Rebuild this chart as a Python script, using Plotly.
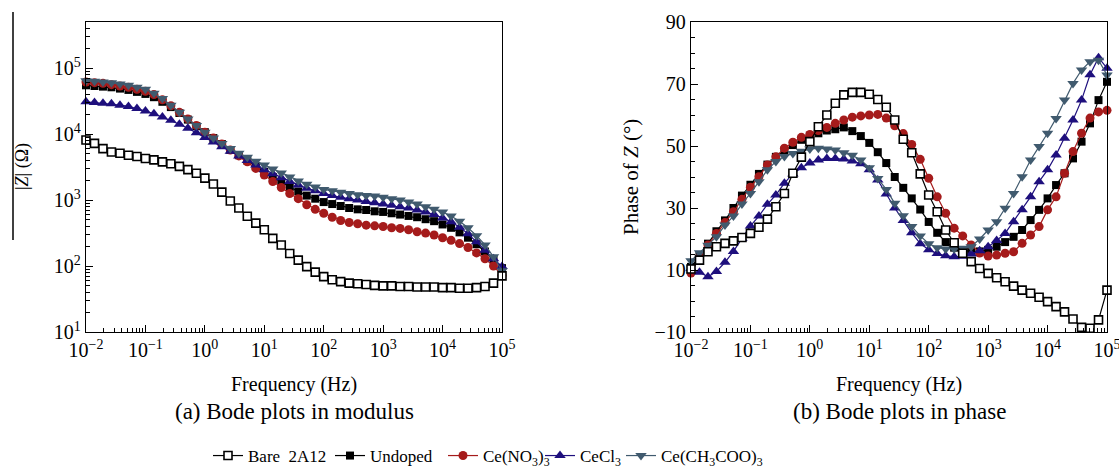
import plotly.graph_objects as go

W, H = 1119, 469

freq = [0.01, 0.0139, 0.0193, 0.0268, 0.0373, 0.0518, 0.072,
        0.1, 0.139, 0.193, 0.268, 0.373, 0.518, 0.72,
        1, 1.39, 1.93, 2.68, 3.73, 5.18, 7.2,
        10, 13.9, 19.3, 26.8, 37.3, 51.8, 72,
        100, 139, 193, 268, 373, 518, 720,
        1000, 1390, 1930, 2680, 3730, 5180, 7200,
        10000, 13900, 19300, 26800, 37300, 51800, 72000, 100000]

# |Z| (ohm)
z_bare = [8130, 7240, 6030, 5370, 5130, 4790, 4570, 4270, 4070, 3800,
          3550, 3240, 2900, 2550, 2150, 1750, 1320, 970, 760, 570,
          447, 355, 263, 209, 155, 123, 98, 81, 69, 62,
          58, 55, 54, 52.5, 51, 50, 50, 49, 49, 48,
          48, 48, 47, 47, 46, 46, 47, 49, 55, 71]
z_undoped = [55000, 53700, 52500, 51300, 49000, 46800, 43700, 40700, 36300, 30900,
             25700, 20900, 16600, 13200, 10700, 8710, 7080, 5750, 4790, 3980,
             3240, 2690, 2240, 1860, 1580, 1350, 1170, 1050, 933, 871,
             813, 759, 724, 708, 676, 661, 631, 603, 575, 550,
             513, 479, 427, 380, 324, 269, 214, 166, 126, 93]
z_no3 = [61700, 60300, 58900, 56200, 53700, 51300, 47900, 44700, 39800, 33100,
         26900, 21400, 17000, 13500, 10700, 8710, 7080, 5750, 4680, 3800,
         3020, 2400, 1910, 1550, 1260, 1050, 851, 724, 631, 550,
         490, 457, 437, 417, 407, 398, 380, 372, 355, 331,
         316, 295, 269, 245, 219, 191, 158, 129, 100, 72]
z_cl = [30900, 30200, 29500, 28800, 27500, 26300, 24500, 22400, 20400, 18200,
        16200, 14100, 12300, 10500, 8910, 7590, 6460, 5500, 4680, 3980,
        3390, 2880, 2510, 2190, 1910, 1700, 1510, 1380, 1260, 1170,
        1100, 1050, 1000, 955, 912, 871, 832, 794, 759, 708,
        661, 603, 537, 468, 389, 309, 234, 174, 129, 98]
z_ac = [64600, 63100, 61700, 60300, 57500, 55000, 51300, 47900, 41700, 34700,
        27500, 21400, 17000, 13500, 10700, 8710, 7240, 6030, 5130, 4470,
        3890, 3390, 2950, 2570, 2240, 1950, 1740, 1580, 1450, 1380,
        1320, 1260, 1200, 1170, 1150, 1100, 1050, 1000, 933, 871,
        794, 724, 661, 575, 479, 380, 288, 209, 138, 85]

# phase (deg)
p_bare = [10.3, 13.2, 15.9, 17.5, 18.6, 19.4, 20.5, 21.8, 23.8, 26.4,
          30.4, 34.7, 41.2, 46.4, 51.4, 56.2, 60.0, 63.8, 66.5, 67.3,
          67.3, 66.7, 65.0, 62.5, 58.4, 52.2, 47.8, 41.0, 34.2, 28.8,
          22.9, 18.8, 15.4, 12.7, 10.5, 8.9, 7.5, 6.2, 4.8, 3.5,
          2.5, 1.2, -0.2, -1.8, -3.5, -5.8, -8.5, -8.8, -6.1, 3.5]
p_undoped = [11.0, 14.5, 18.5, 22.5, 26.0, 30.0, 34.0, 37.5, 41.0, 44.0,
             46.5, 48.5, 50.3, 52.0, 53.3, 54.1, 55.0, 55.4, 56.0, 54.8,
             53.2, 51.0, 48.0, 44.5, 40.0, 36.5, 33.1, 29.5, 25.5, 22.0,
             19.0, 17.2, 16.3, 16.0, 16.0, 16.5, 17.5, 19.0, 20.7, 22.9,
             26.1, 29.4, 33.1, 37.4, 41.2, 46.0, 51.4, 57.3, 64.8, 70.7]
p_no3 = [9.0, 14.0, 18.1, 21.8, 25.3, 28.8, 32.8, 36.7, 40.1, 43.9,
         46.5, 49.3, 51.2, 52.8, 53.7, 55.0, 56.0, 57.3, 58.4, 59.3,
         59.7, 60.0, 60.2, 59.0, 56.5, 54.0, 50.5, 45.7, 39.6, 33.6,
         28.3, 23.5, 21.0, 18.1, 15.5, 14.5, 14.8, 15.4, 15.9, 18.6,
         21.3, 24.0, 29.4, 33.6, 41.2, 48.2, 54.1, 59.0, 61.0, 61.5]
p_cl = [10.5, 9.3, 7.8, 9.5, 12.5, 16.0, 20.2, 24.2, 27.4, 31.2,
        34.2, 38.0, 41.0, 43.0, 44.5, 45.5, 46.0, 46.0, 45.8, 45.2,
        44.3, 42.3, 39.0, 34.5, 30.0, 26.0, 22.0, 18.5, 16.5, 15.3,
        14.6, 14.3, 14.4, 15.2, 16.2, 17.5, 19.5, 21.8, 25.6, 29.4,
        33.6, 38.5, 42.3, 47.1, 52.5, 58.4, 64.8, 73.0, 78.5, 75.1]
p_ac = [13.0, 15.6, 18.0, 20.7, 24.5, 27.4, 31.3, 34.7, 38.5, 42.3,
        45.0, 46.6, 47.6, 48.3, 49.0, 49.3, 49.0, 48.7, 47.8, 47.0,
        45.5, 43.0, 39.5, 36.0, 31.5, 27.5, 24.0, 21.0, 18.5, 17.2,
        16.8, 16.8, 17.0, 17.5, 20.0, 22.9, 25.6, 29.9, 34.7, 40.1,
        45.5, 49.8, 54.1, 58.9, 64.8, 70.2, 74.5, 77.2, 77.7, 72.9]

names = ["Bare  2A12", "Undoped", "Ce(NO<sub>3</sub>)<sub>3</sub>",
         "CeCl<sub>3</sub>", "Ce(CH<sub>3</sub>COO)<sub>3</sub>"]
colors = ["black", "black", "#a51b1b", "#1e0f7d", "#405a6e"]
symbols = ["square-open", "square", "circle", "triangle-up", "triangle-down"]
sizes = [8, 8, 9, 10, 10]
zs = [z_bare, z_undoped, z_no3, z_cl, z_ac]
ps = [p_bare, p_undoped, p_no3, p_cl, p_ac]

FONT = "Liberation Serif"


def px_x(v):
    return v / W


def px_y(v):
    return 1 - v / H


fig = go.Figure()

# draw order: doped samples first, bare on top
order = [1, 2, 3, 4, 0]
legend_x = [208, 330, 443, 540, 621]
for k in order:
    mk = dict(symbol=symbols[k], size=sizes[k], color=colors[k], line=dict(width=0))
    if k == 0:
        mk = dict(symbol="square", size=sizes[k], color="white",
                  line=dict(width=1.6, color="black"))
    line = dict(color=colors[k], width=1.2)
    fig.add_trace(go.Scatter(x=freq, y=zs[k], mode="lines+markers", marker=mk, line=line,
                             name=names[k], xaxis="x", yaxis="y", cliponaxis=False,
                             legend="legend" if k == 0 else "legend%d" % (k + 1)))
    fig.add_trace(go.Scatter(x=freq, y=ps[k], mode="lines+markers", marker=mk, line=line,
                             name=names[k], xaxis="x2", yaxis="y2", cliponaxis=False,
                             showlegend=False))

dec_vals = [10 ** e for e in range(-2, 6)]
dec_text = ["10<sup>%s</sup>" % (str(e).replace("-", "\u2212")) for e in range(-2, 6)]
minor_x = [m * 10 ** e for e in range(-2, 5) for m in range(2, 10)]
minor_y = [m * 10 ** e for e in range(1, 6) for m in range(2, 10)]

axis_common = dict(showgrid=False, zeroline=False, showline=True, linecolor="black",
                   linewidth=1.4, mirror=True, ticks="inside", ticklen=7, tickwidth=1.2,
                   tickcolor="black", automargin=False, ticklabeloverflow="allow",
                   tickfont=dict(family=FONT, size=20, color="black"))

fig.update_layout(
    template="none",
    width=W, height=H,
    margin=dict(l=0, r=0, t=0, b=0, autoexpand=False),
    paper_bgcolor="white", plot_bgcolor="white",
    font=dict(family=FONT, color="black"),
    xaxis=dict(type="log", range=[-2, 5], domain=[px_x(86), px_x(502)], anchor="y",
               tickmode="array", tickvals=dec_vals, ticktext=dec_text,
               minor=dict(ticks="inside", ticklen=4, tickcolor="black", tickmode="array",
                          tickvals=minor_x),
               **axis_common),
    yaxis=dict(type="log", range=[1, 5.7], domain=[px_y(332), px_y(22)], anchor="x",
               tickmode="array", tickvals=[10, 100, 1000, 10000, 100000],
               ticktext=["10<sup>%d</sup>" % e for e in range(1, 6)],
               minor=dict(ticks="inside", ticklen=4, tickcolor="black", tickmode="array",
                          tickvals=minor_y),
               **axis_common),
    xaxis2=dict(type="log", range=[-2, 5], domain=[px_x(691), px_x(1107)], anchor="y2",
                tickmode="array", tickvals=dec_vals, ticktext=dec_text,
                minor=dict(ticks="inside", ticklen=4, tickcolor="black", tickmode="array",
                           tickvals=minor_x),
                **axis_common),
    yaxis2=dict(range=[-10, 90], domain=[px_y(332), px_y(22)], anchor="x2",
                tickmode="linear", tick0=-10, dtick=20,
                minor=dict(ticks="inside", ticklen=4, tickcolor="black", dtick=5),
                **axis_common),
)

# one legend per entry so the spacing follows the original
for k in range(5):
    key = "legend" if k == 0 else "legend%d" % (k + 1)
    fig.update_layout({key: dict(x=px_x(legend_x[k]), y=px_y(456), xanchor="left",
                                 yanchor="middle", orientation="h",
                                 bgcolor="rgba(0,0,0,0)", borderwidth=0,
                                 font=dict(family=FONT, size=17, color="black"),
                                 itemwidth=30)})

ann = [
    dict(text="Frequency (Hz)", x=px_x(294), y=px_y(384), size=20),
    dict(text="Frequency (Hz)", x=px_x(899), y=px_y(384), size=20),
    dict(text="(a) Bode plots in modulus", x=px_x(294), y=px_y(411), size=23),
    dict(text="(b) Bode plots in phase", x=px_x(899), y=px_y(411), size=23),
    dict(text="|<i>Z</i>| (\u03a9)", x=px_x(22), y=px_y(167), angle=-90, size=18),
    dict(text="Phase of <i>Z</i> (\u00b0)", x=px_x(631), y=px_y(177), angle=-90, size=21),
]
for a in ann:
    fig.add_annotation(text=a["text"], x=a["x"], y=a["y"], xref="paper", yref="paper",
                       xanchor="center", yanchor="middle", showarrow=False,
                       textangle=a.get("angle", 0),
                       font=dict(family=FONT, size=a["size"], color="black"))

# stray rule left of the modulus axis title in the original
fig.add_shape(type="line", xref="paper", yref="paper",
              x0=px_x(13), x1=px_x(13), y0=px_y(12), y1=px_y(240),
              line=dict(color="black", width=1.5))

# drop the page's default body margin so the figure sits at the window origin
fig.write_html("out.html", config={"displayModeBar": False},
               post_script="document.body.style.margin='0';document.body.style.overflow='hidden';")
